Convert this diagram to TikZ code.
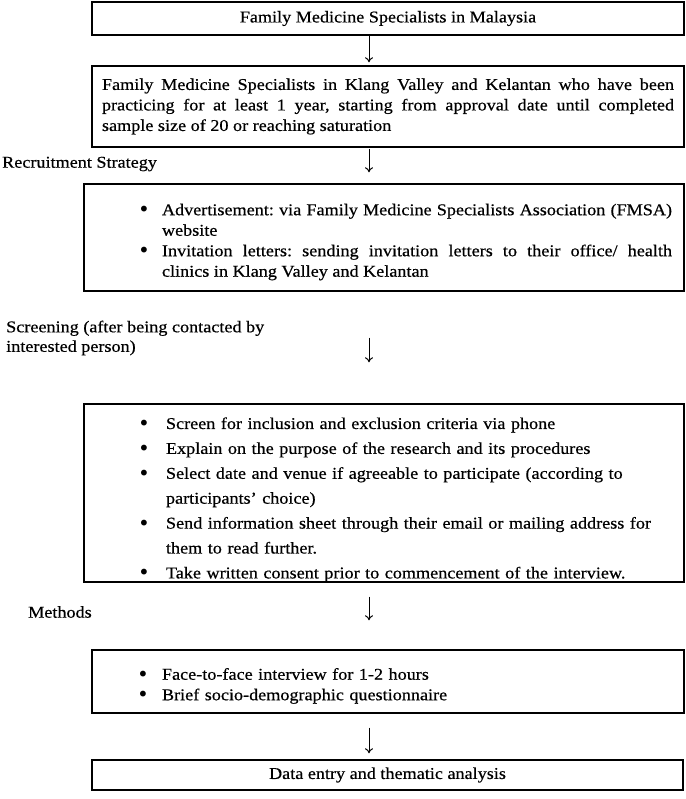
\documentclass[tikz,border=0pt]{standalone}
\usepackage{fontspec}
\setmainfont{Liberation Serif}[FakeStretch=1.1,FakeBold=0.5]
\newfontfamily\bulfont{DejaVu Sans}
\usetikzlibrary{arrows.meta}
\frenchspacing
\newcommand\bitem[3]{\par\noindent\hangindent=#2\hangafter=1\hbox to #2{\hskip #1\raisebox{-1.5pt}{\bulfont\fontsize{20pt}{0pt}\selectfont •}\hfil}#3\par}
\begin{document}
\begin{tikzpicture}[x=1pt,y=-1pt,
  box/.style={draw, line width=1.4pt, inner ysep=0pt, font=\fontsize{16.5pt}{20.5pt}\selectfont},
  arr/.style={line width=1pt, -{To[length=5pt,width=8pt]}},
  lbl/.style={anchor=west, inner sep=0pt, align=left, font=\fontsize{16.5pt}{19.5pt}\selectfont}]
\useasboundingbox (0,0) rectangle (685,799);
\coordinate (ax) at (369,0);
\node[box, minimum width=592pt, minimum height=33pt] (b1) at (388,18.5) {Family Medicine Specialists in Malaysia};
\node[box, text width=572pt, inner xsep=10pt, minimum height=81pt, align=justify] (b2) at (388,106.5)
  {Family Medicine Specialists in Klang Valley and Kelantan who have been\linebreak practicing for at least 1 year, starting from approval date until completed\linebreak sample size of 20 or reaching saturation};
\node[box, text width=576pt, inner xsep=12pt, minimum height=107pt, align=justify] (b3) at (384,237.5)
  {\bitem{42pt}{66pt}{Advertisement: via Family Medicine Specialists Association (FMSA)\linebreak website}%
   \bitem{42pt}{66pt}{Invitation letters: sending invitation letters to their office/ health\linebreak clinics in Klang Valley and Kelantan}\vspace{14pt}};
\node[box, text width=576pt, inner xsep=12pt, minimum height=178pt, align=left, font=\fontsize{16.5pt}{24.9pt}\selectfont] (b4) at (384,493)
  {\bitem{42pt}{70pt}{Screen for inclusion and exclusion criteria via phone}%
   \bitem{42pt}{70pt}{Explain on the purpose of the research and its procedures}%
   \bitem{42pt}{70pt}{Select date and venue if agreeable to participate (according to\newline participants’ choice)}%
   \bitem{42pt}{70pt}{Send information sheet through their email or mailing address for\newline them to read further.}%
   \bitem{42pt}{70pt}{Take written consent prior to commencement of the interview.}\vspace{-8pt}};
\node[box, text width=568pt, inner xsep=12pt, minimum height=63pt, align=left] (b5) at (388,681.5)
  {\bitem{33pt}{58pt}{Face-to-face interview for 1-2 hours}%
   \bitem{33pt}{58pt}{Brief socio-demographic questionnaire}\vspace{12pt}};
\node[box, minimum width=591pt, minimum height=30pt] (b6) at (387.5,775) {Data entry and thematic analysis};
\node[lbl] (rs) at (2,164) {Recruitment Strategy};
\node[lbl] (sc) at (6,338) {Screening (after being contacted by\\interested person)};
\node[lbl] (me) at (28,612) {Methods};
\draw[arr, shorten >=3pt] (b1.south -| ax) -- (b2.north -| ax);
\draw[arr, shorten <=1pt, shorten >=11pt] (b2.south -| ax) -- (b3.north -| ax);
\draw[arr, shorten <=46pt, shorten >=41pt] (b3.south -| ax) -- (b4.north -| ax);
\draw[arr, shorten <=14pt, shorten >=29pt] (b4.south -| ax) -- (b5.north -| ax);
\draw[arr, shorten <=14pt, shorten >=6pt] (b5.south -| ax) -- (b6.north -| ax);
\end{tikzpicture}
\end{document}
